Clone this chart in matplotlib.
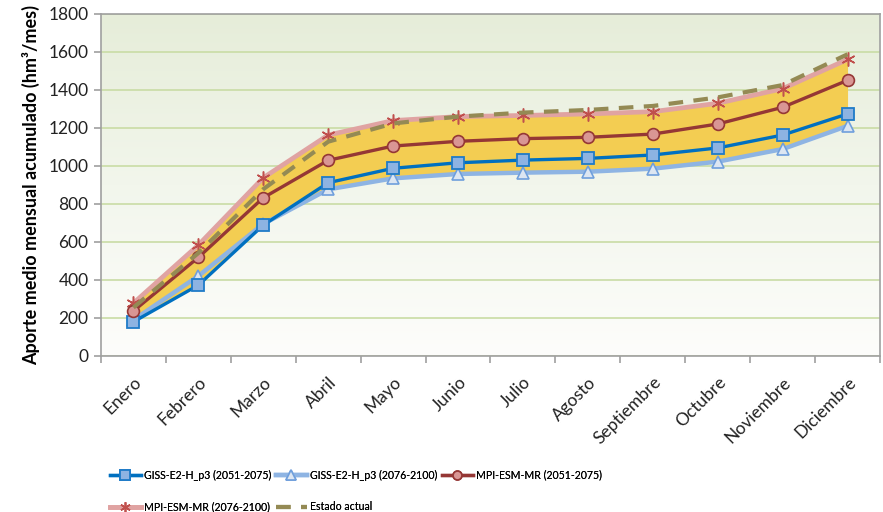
import numpy as np
import matplotlib
matplotlib.use("Agg")
import matplotlib.pyplot as plt
from matplotlib.colors import LinearSegmentedColormap

plt.rcParams['font.family'] = ['Lato', 'DejaVu Sans']

meses = ["Enero", "Febrero", "Marzo", "Abril", "Mayo", "Junio", "Julio",
         "Agosto", "Septiembre", "Octubre", "Noviembre", "Diciembre"]

giss_2051 = [180, 373, 689, 912, 988, 1017, 1031, 1040, 1058, 1095, 1163, 1274]
giss_2076 = [190, 421, 695, 877, 935, 958, 965, 970, 986, 1023, 1089, 1211]
mpi_2051 = [237, 519, 833, 1030, 1105, 1130, 1144, 1151, 1168, 1221, 1309, 1451]
mpi_2076 = [278, 584, 938, 1163, 1239, 1260, 1266, 1274, 1286, 1330, 1407, 1561]
estado_actual = [255, 542, 878, 1128, 1224, 1260, 1281, 1295, 1316, 1361, 1426, 1588]

etiquetas = ["GISS-E2-H_p3 (2051-2075)", "GISS-E2-H_p3 (2076-2100)",
             "MPI-ESM-MR (2051-2075)", "MPI-ESM-MR (2076-2100)", "Estado actual"]

fig = plt.figure(figsize=(8.83, 5.12), dpi=100)
ax = fig.add_axes([101 / 883, 1 - 356 / 512, 779 / 883, 342 / 512])

x = np.arange(len(meses))
ax.set_xlim(-0.5, len(meses) - 0.5)
ax.set_ylim(0, 1800)

# gradient background of the plot area
grad = np.linspace(0, 1, 256).reshape(-1, 1)
cmap = LinearSegmentedColormap.from_list("fondo", ["#fdfdfb", "#f2f6ec", "#e6edd9"])
ax.imshow(grad, extent=[-0.5, len(meses) - 0.5, 0, 1800], origin="lower",
          aspect="auto", cmap=cmap, zorder=0)

ax.set_yticks(np.arange(0, 1801, 200))
ax.yaxis.grid(True, color="#c9dca5", linewidth=1.2, zorder=1)
ax.set_axisbelow(True)

# band between the lowest and highest projections
lo = np.minimum(giss_2076, giss_2051)
hi = np.maximum(mpi_2076, mpi_2051)
ax.fill_between(x, lo, hi, color="#f3cd52", zorder=2, linewidth=0)

h1, = ax.plot(x, giss_2076, color="#8eb4e3", lw=3.2, marker="^", ms=9,
              mfc="#dce6f2", mec="#6f9fdc", mew=1.2, zorder=3)
h0, = ax.plot(x, giss_2051, color="#0070c0", lw=2.4, marker="s", ms=9,
              mfc="#8db3e2", mec="#1f7bc8", mew=1.3, zorder=4)
h3, = ax.plot(x, mpi_2076, color="#e0a3a2", lw=3.4, marker=(6, 2, 0), ms=10,
              mec="#c0504d", mew=1.1, zorder=5)
h2, = ax.plot(x, mpi_2051, color="#953735", lw=2.4, marker="o", ms=8.5,
              mfc="#d99694", mec="#953735", mew=1.2, zorder=6)
h4, = ax.plot(x, estado_actual, color="#948a54", lw=3.0, ls=(0, (3.5, 2.5)),
              zorder=7)

for s in ax.spines.values():
    s.set_color("#a0a0a0")
    s.set_linewidth(1.2)

ax.set_xticks(np.arange(-0.5, len(meses), 1.0))
ax.set_xticklabels([])
ax.set_xticks(x, minor=True)
ax.set_xticklabels(meses, minor=True, rotation=45, ha="right",
                   rotation_mode="anchor", fontsize=12.5, color="#222222")
ax.tick_params(axis="x", which="minor", length=0, pad=13)
ax.tick_params(axis="x", which="major", length=5, color="#a0a0a0", width=1.2)
ax.tick_params(axis="y", length=5, color="#a0a0a0", width=1.2,
               labelsize=12.5, labelcolor="#222222", pad=4)

ax.set_ylabel("Aporte medio mensual acumulado (hm³/mes)", fontsize=13,
              fontweight="bold", labelpad=6)

# legend entries laid out row by row: three on top, two below
handles = [h0, h1, h2, h3, h4]
slots = [(110, 475), (276, 475), (442, 475), (110, 507), (276, 507)]
for h, lab, (px, py) in zip(handles, etiquetas, slots):
    lg = fig.legend([h], [lab], loc="center left",
                    bbox_to_anchor=(px / 883, 1 - py / 512),
                    frameon=False, fontsize=7.6, markerscale=0.75,
                    handlelength=2.9, handletextpad=0.35,
                    borderaxespad=0, borderpad=0)
    fig.add_artist(lg)

fig.savefig("out.png", dpi=100)
